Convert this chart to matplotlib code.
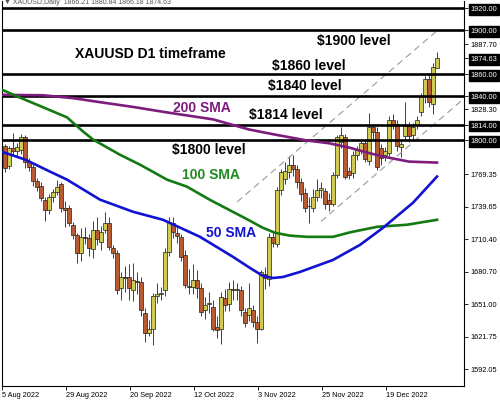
import numpy as np
import matplotlib
matplotlib.use("Agg")
import matplotlib.pyplot as plt

# daily candles, index 0 = 5 Aug 2022
opens = [1795, 1777, 1793, 1790, 1791, 1803, 1780, 1776, 1763, 1759,
         1746, 1737, 1749, 1753, 1760, 1739, 1739, 1723, 1714, 1698,
         1712, 1711, 1701, 1719, 1708, 1719, 1725, 1702, 1698, 1666,
         1676, 1676, 1664, 1672, 1671, 1643, 1625, 1629, 1659, 1660,
         1664, 1699, 1725, 1716, 1712, 1696, 1668, 1667, 1673, 1666,
         1646, 1651, 1649, 1630, 1629, 1657, 1651, 1665, 1664, 1664,
         1644, 1641, 1646, 1635, 1629, 1679, 1674, 1712, 1706, 1755,
         1765, 1771, 1778, 1774, 1762, 1752, 1740, 1739, 1749, 1755,
         1754, 1746, 1742, 1769, 1799, 1803, 1772, 1770, 1787, 1791,
         1798, 1781, 1812, 1808, 1793, 1787, 1789, 1819, 1815, 1794,
         1804, 1813, 1805, 1814, 1826, 1840, 1856, 1833, 1866.21]
highs = [1797, 1795, 1807, 1798, 1806, 1805, 1784, 1779, 1766, 1762,
         1749, 1751, 1756, 1764, 1762, 1745, 1741, 1726, 1716, 1720,
         1721, 1715, 1727, 1730, 1722, 1735, 1730, 1705, 1700, 1680,
         1686, 1688, 1689, 1680, 1676, 1648, 1637, 1661, 1670, 1667,
         1702, 1730, 1730, 1721, 1715, 1700, 1683, 1688, 1682, 1670,
         1658, 1662, 1655, 1640, 1662, 1665, 1671, 1673, 1670, 1668,
         1648, 1670, 1650, 1640, 1682, 1685, 1716, 1717, 1758, 1774,
         1780, 1786, 1787, 1778, 1766, 1757, 1749, 1756, 1765, 1762,
         1757, 1752, 1771, 1805, 1812, 1806, 1776, 1790, 1795, 1801,
         1800, 1825, 1815, 1812, 1797, 1794, 1822, 1824, 1819, 1800,
         1835, 1817, 1816, 1822, 1843, 1859, 1861, 1870, 1880.84]
lows = [1771, 1774, 1786, 1785, 1788, 1775, 1772, 1759, 1754, 1745,
        1727, 1733, 1744, 1750, 1735, 1721, 1722, 1710, 1689, 1690,
        1706, 1695, 1693, 1705, 1700, 1716, 1700, 1693, 1660, 1655,
        1662, 1655, 1654, 1660, 1640, 1617, 1622, 1614, 1652, 1655,
        1659, 1695, 1711, 1707, 1690, 1666, 1660, 1660, 1657, 1640,
        1638, 1643, 1627, 1620, 1615, 1645, 1645, 1655, 1655, 1640,
        1630, 1636, 1630, 1616, 1628, 1665, 1668, 1703, 1703, 1750,
        1760, 1766, 1768, 1757, 1745, 1735, 1725, 1735, 1745, 1748,
        1738, 1736, 1740, 1766, 1793, 1765, 1765, 1766, 1782, 1788,
        1780, 1778, 1800, 1773, 1778, 1781, 1786, 1810, 1790, 1785,
        1800, 1799, 1800, 1810, 1822, 1834, 1830, 1824, 1866.18]
closes = [1775, 1793, 1790, 1794, 1803, 1780, 1776, 1763, 1758, 1748,
          1737, 1749, 1753, 1758, 1739, 1737, 1725, 1714, 1698, 1712,
          1711, 1702, 1719, 1710, 1717, 1725, 1703, 1698, 1664, 1676,
          1675, 1666, 1673, 1671, 1646, 1625, 1629, 1659, 1660, 1661,
          1699, 1726, 1717, 1713, 1694, 1669, 1667, 1673, 1666, 1644,
          1650, 1652, 1629, 1628, 1658, 1650, 1665, 1664, 1665, 1646,
          1634, 1648, 1635, 1629, 1680, 1675, 1712, 1707, 1755, 1771,
          1772, 1778, 1774, 1762, 1751, 1739, 1740, 1749, 1755, 1757,
          1742, 1742, 1769, 1803, 1805, 1767, 1769, 1787, 1792, 1798,
          1783, 1812, 1808, 1776, 1784, 1790, 1819, 1815, 1795, 1797,
          1813, 1804, 1812, 1819, 1840, 1856, 1835, 1867, 1874.63]

# moving averages (candle index, price)
sma200_x = [-1, 9.5, 17, 24, 32, 40.5, 52, 61, 68, 75.5, 81, 86, 90, 94.5, 101, 108]
sma200_y = [1841.5, 1841.1, 1838.5, 1834.7, 1830.5, 1825.5, 1819.2, 1810.0, 1805.0, 1800.0,
            1797.5, 1793.6, 1789.5, 1785.4, 1780.8, 1779.9]
sma100_x = [-1, 3, 9, 15.5, 19.5, 22, 28.75, 33.75, 40.5, 45.5, 51.25, 56.25, 61.25, 64.25,
            67.5, 71.25, 75.5, 82, 86.25, 93, 100.5, 108]
sma100_y = [1846.5, 1840.1, 1831.0, 1821.0, 1808.2, 1800.9, 1787.0, 1778.0, 1764.4, 1758.0,
            1746.0, 1736.5, 1727.0, 1721.0, 1716.1, 1713.5, 1712.4, 1712.4, 1716.5, 1721.5,
            1723.4, 1727.9]
sma50_x = [-1, 5, 11.25, 15.5, 23.75, 32, 39.5, 48.75, 57, 61.25, 64.5, 67, 69.5, 73.75,
           82, 88.75, 94.5, 102, 108]
sma50_y = [1790.0, 1782.7, 1771.7, 1764.4, 1746.2, 1735.2, 1727.9, 1712.4, 1694.2, 1684.1,
           1676.8, 1675.0, 1675.9, 1680.5, 1691.4, 1705.1, 1720.6, 1743.4, 1767.2]

# channel (dashed) lines
chan_up_x, chan_up_y = [58, 108.25], [1744.1, 1900.5]
chan_lo_x, chan_lo_y = [79, 114.5], [1726.4, 1837.3]

levels = [1920, 1900, 1860, 1840, 1814, 1800]
boxed_ticks = [1920.00, 1900.00, 1874.63, 1860.00, 1840.00, 1814.00, 1800.00]
plain_ticks = [1887.70, 1828.30, 1769.35, 1739.65, 1710.40, 1680.70, 1651.00, 1621.75, 1592.05]

date_pos = [0, 16, 32, 48, 64, 80, 96]
date_labels = ["5 Aug 2022", "29 Aug 2022", "20 Sep 2022", "12 Oct 2022",
               "3 Nov 2022", "25 Nov 2022", "19 Dec 2022"]

plt.rcParams['font.family'] = ['Liberation Sans', 'DejaVu Sans']

fig = plt.figure(figsize=(5, 4), dpi=100)
ax = fig.add_axes([0.004, 0.035, 0.924, 0.9625])

o = np.array(opens); h = np.array(highs); l = np.array(lows); c = np.array(closes)
x = np.arange(len(o))
bull = c >= o
bottom = np.minimum(o, c)
height = np.maximum(np.abs(c - o), 0.8)

ax.vlines(x, l, h, color='#222222', lw=0.6, zorder=2)
ax.bar(x, height, bottom=bottom, width=0.8,
       color=np.where(bull, '#cfcb52', '#b85a32'),
       edgecolor='#222222', linewidth=0.5, zorder=3)

for lv in levels:
    ax.axhline(lv, color='black', lw=1.9, zorder=4)

ax.plot(chan_up_x, chan_up_y, color='#9a9a9a', lw=0.8, ls=(0, (6, 4)), zorder=2)
ax.plot(chan_lo_x, chan_lo_y, color='#9a9a9a', lw=0.8, ls=(0, (6, 4)), zorder=2)

ax.plot(sma200_x, sma200_y, color='#7d1c7d', lw=1.9, zorder=5)
ax.plot(sma100_x, sma100_y, color='#137a13', lw=1.9, zorder=5)
ax.plot(sma50_x, sma50_y, color='#1212d2', lw=1.9, zorder=5)

ax.set_xlim(-0.75, 114.75)
ax.set_ylim(1576.8, 1926.8)

# annotations
bold = dict(fontsize=10, fontweight='bold', va='center', ha='left', zorder=6)
ax.text(17.5, 1878.6, "XAUUSD D1 timeframe", color='black', **bold)
ax.text(78, 1890.5, "$1900 level", color='black', **bold)
ax.text(66.75, 1867.7, "$1860 level", color='black', **bold)
ax.text(65.75, 1849.1, "$1840 level", color='black', **bold)
ax.text(61, 1823.2, "$1814 level", color='black', **bold)
ax.text(41.75, 1791.4, "$1800 level", color='black', **bold)
ax.text(42, 1829.1, "200 SMA", color='#7d1c7d', **bold)
ax.text(44.25, 1768.6, "100 SMA", color='#1e8a1e', **bold)
ax.text(50.25, 1716.1, "50 SMA", color='#1212d2', **bold)

# right price scale
ax.yaxis.tick_right()
ax.set_yticks(plain_ticks + boxed_ticks)
ax.set_yticklabels(["%.2f" % v for v in plain_ticks + boxed_ticks])
ax.tick_params(axis='y', labelsize=5.3, length=3, width=0.6, pad=1.5, colors='black')
for lbl, v in zip(ax.get_yticklabels(), plain_ticks + boxed_ticks):
    if v in boxed_ticks:
        lbl.set_color('white')
        lbl.set_bbox(dict(facecolor='black', edgecolor='black', pad=1.2))

ax.set_xticks([p - 0.75 for p in date_pos])
ax.set_xticklabels(date_labels, ha='left')
ax.tick_params(axis='x', labelsize=5.3, length=3, width=0.6, pad=1)

for s in ax.spines.values():
    s.set_linewidth(0.8)
ax.spines['top'].set_visible(False)

fig.text(0.008, 0.993, "\u25bc XAUUSD,Daily  1866.21 1880.84 1866.18 1874.63",
         fontsize=5, color='#555555', va='center', ha='left')

fig.savefig("out.png", dpi=100)
